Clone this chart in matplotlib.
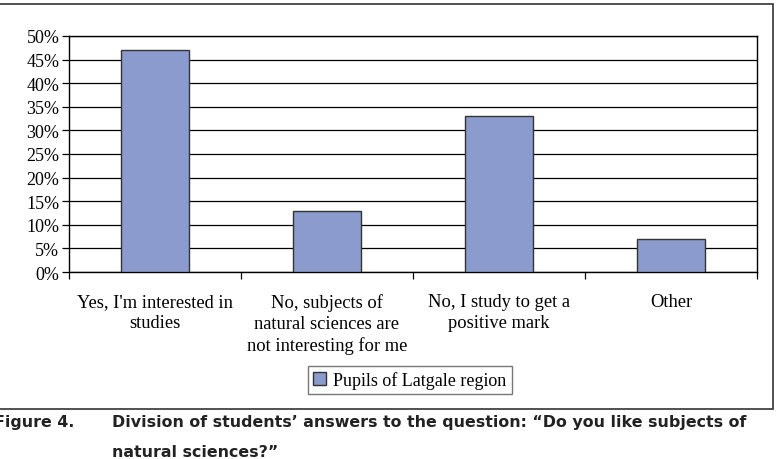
import numpy as np
import matplotlib.pyplot as plt
from matplotlib.patches import Rectangle
from matplotlib.ticker import MultipleLocator, PercentFormatter

# answers and shares
categories = ["Yes, I'm interested in\nstudies",
              "No, subjects of\nnatural sciences are\nnot interesting for me",
              "No, I study to get a\npositive mark",
              "Other"]
shares = [47, 13, 33, 7]
series_name = "Pupils of Latgale region"

bar_color = "#8B9BCD"

plt.rcParams['font.family'] = ['Liberation Serif', 'DejaVu Serif']

fig = plt.figure(figsize=(7.79, 4.6), dpi=100)
ax = fig.add_axes([69 / 779, 1 - 273 / 460, (757 - 69) / 779, (273 - 37) / 460])

x = np.arange(len(categories))
ax.bar(x, shares, width=0.4, color=bar_color, edgecolor="#333333", linewidth=1.0,
       zorder=3, label=series_name)

ax.set_xlim(-0.5, len(categories) - 0.5)
ax.set_ylim(0, 50)
ax.yaxis.set_major_locator(MultipleLocator(5))
ax.yaxis.set_major_formatter(PercentFormatter(decimals=0))
ax.grid(axis='y', color='black', linewidth=0.9, zorder=0)

# category labels sit between the tick marks
ax.set_xticks(np.arange(len(categories) + 1) - 0.5)
ax.set_xticklabels([])
ax.set_xticks(x, minor=True)
ax.set_xticklabels(categories, minor=True, fontsize=13.3, linespacing=1.3)
ax.tick_params(axis='x', which='minor', length=0, pad=15)
ax.tick_params(axis='x', which='major', length=5, width=0.9, direction='out')
ax.tick_params(axis='y', length=5, width=0.9, labelsize=13, pad=2)

for s in ax.spines.values():
    s.set_linewidth(1.0)
    s.set_color('black')

leg = ax.legend(loc='center', bbox_to_anchor=(410 / 779, 1 - 381 / 460),
                bbox_transform=fig.transFigure, frameon=True, fancybox=False,
                fontsize=13, handlelength=0.7, handleheight=0.7,
                handletextpad=0.4, borderpad=0.3, edgecolor='#555555')
leg.get_frame().set_linewidth(1.0)

# outer frame around the chart
fig.patches.append(Rectangle((-2 / 779, 1 - 410 / 460), 775 / 779, 405 / 460,
                             transform=fig.transFigure, fill=False,
                             edgecolor='#333333', linewidth=1.2))

# caption under the figure
cap = dict(family='DejaVu Sans', fontweight='bold', fontsize=11.4, color='#222222',
           va='baseline')
fig.text(-6 / 779, 1 - 427 / 460, "Figure 4.", **cap)
fig.text(112 / 779, 1 - 427 / 460,
         "Division of students\u2019 answers to the question: \u201cDo you like subjects of",
         **cap)
fig.text(112 / 779, 1 - 457 / 460, "natural sciences?\u201d", **cap)

fig.savefig("out.png", dpi=100)
